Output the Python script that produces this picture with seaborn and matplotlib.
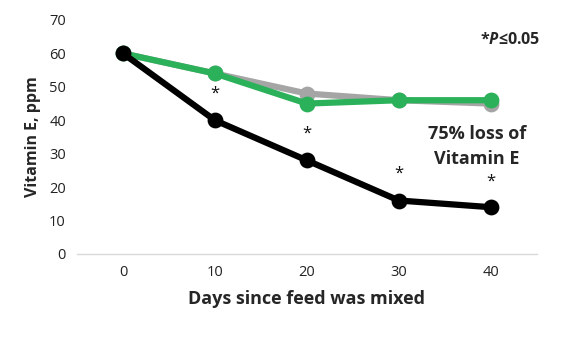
import matplotlib
matplotlib.use("Agg")
import matplotlib.pyplot as plt
import seaborn as sns
import pandas as pd

days = ["0", "10", "20", "30", "40"]
series_names = ["Control A", "Control B", "Treatment"]
gray_vals = [60, 54, 48, 46, 45]
green_vals = [60, 54, 45, 46, 46]
black_vals = [60, 40, 28, 16, 14]
star_vals = [48, 36, 24, 21.5]
star_days = ["10", "20", "30", "40"]
y_ticks = [0, 10, 20, 30, 40, 50, 60, 70]

colors = {"Control A": "#a5a5a5", "Control B": "#2bb15a", "Treatment": "#000000"}

df = pd.DataFrame({
    "day": days * 3,
    "value": gray_vals + green_vals + black_vals,
    "series": [series_names[0]] * 5 + [series_names[1]] * 5 + [series_names[2]] * 5,
})

sns.set_style("white")
plt.rcParams["font.family"] = ["Open Sans", "DejaVu Sans"]
plt.rcParams["mathtext.fontset"] = "custom"
plt.rcParams["mathtext.it"] = "Open Sans:italic:bold"
plt.rcParams["mathtext.rm"] = "Open Sans:bold"
plt.rcParams["mathtext.bf"] = "Open Sans:bold"

W, H = 568, 337
fig = plt.figure(figsize=(W / 100, H / 100), dpi=100)
ax = fig.add_axes([0.1356, 0.2463, 0.8094, 0.6944])

for name in series_names:
    sub = df[df["series"] == name]
    sns.pointplot(data=sub, x="day", y="value", order=days, color=colors[name],
                  markers="o", markersize=8, linewidth=4.5, ax=ax, errorbar=None)

for d, v in zip(star_days, star_vals):
    ax.text(days.index(d), v, "*", ha="center", va="center", fontsize=12, color="#111111")

ax.set_ylim(0, 70)
ax.set_xlim(-0.5, len(days) - 0.5)
ax.set_yticks(y_ticks)
ax.tick_params(axis="both", length=0, labelsize=10.5, colors="#222222", pad=8)
for s in ["top", "right", "left"]:
    ax.spines[s].set_visible(False)
ax.spines["bottom"].set_color("#d9d9d9")
ax.spines["bottom"].set_linewidth(1)
ax.set_xlabel("Days since feed was mixed", fontsize=13, fontweight="bold", labelpad=7)
ax.set_ylabel("Vitamin E, ppm", fontsize=11.5, fontweight="bold", labelpad=6)

fig.text(540 / W, 1 - 40 / H, r"*$\mathit{P}$≤0.05", ha="right", va="center",
         fontsize=11.5, fontweight="bold")

ax.text(3.85, 32.2, "75% loss of\nVitamin E", ha="center", va="center", fontsize=13,
        fontweight="bold", linespacing=1.45)

fig.savefig("out.png", dpi=100)
